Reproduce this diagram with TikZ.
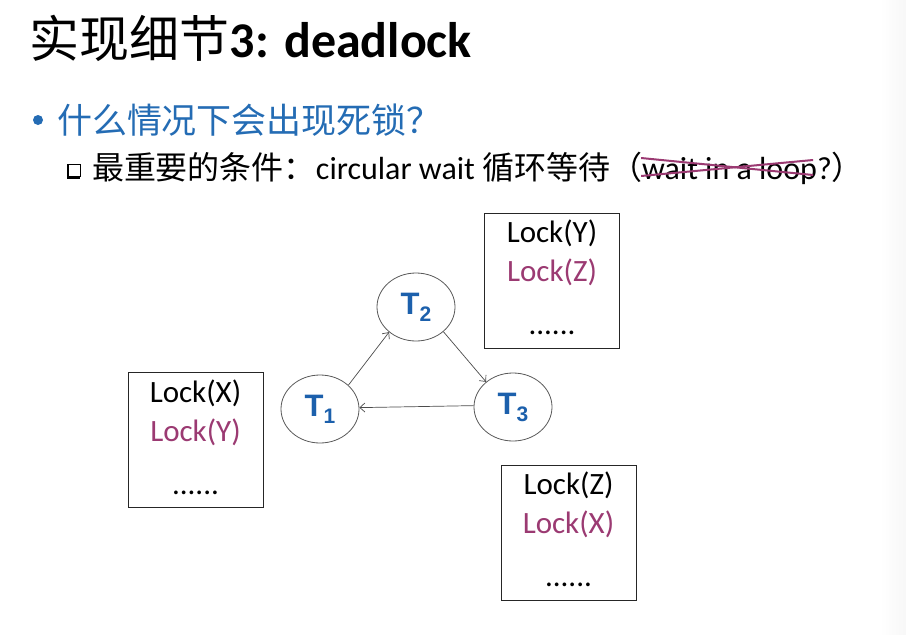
\documentclass[tikz,border=0pt]{standalone}
\usepackage{fontspec}
\setmainfont{Carlito}
\newfontfamily\cjk{Noto Sans CJK SC}
\newfontfamily\arialf{Liberation Sans}
\usetikzlibrary{shapes.geometric,arrows.meta}
\definecolor{lockpurple}{RGB}{155,58,114}
\definecolor{slideblue}{RGB}{36,108,180}
\definecolor{tblue}{RGB}{28,96,172}
\newcommand\tlab[1]{{\arialf\bfseries\fontsize{31}{31}\selectfont T\raisebox{-7pt}{\fontsize{21}{21}\selectfont #1}}}
\begin{document}
\begin{tikzpicture}[x=1pt,y=-1pt,
  txt/.style={inner sep=0pt,outer sep=0pt,anchor=base west},
  boxtxt/.style={inner sep=0pt,outer sep=0pt,anchor=base,font=\fontsize{31}{31}\selectfont},
  lockbox/.style={draw=black!85,line width=0.9pt,minimum width=135pt,minimum height=135pt,inner sep=0pt},
  tnode/.style={ellipse,draw=black!65,line width=0.8pt,minimum width=78pt,minimum height=68pt,inner sep=0pt,text=tblue},
  conn/.style={draw=black!70,line width=0.7pt,-{Straight Barb[length=5pt,width=9pt]}},
  strike/.style={draw=lockpurple,line width=2pt}]
\useasboundingbox (0,0) rectangle (906,635);
\fill[white] (0,0) rectangle (906,635);
\shade[left color=white,right color=black!3] (880,0) rectangle (906,635);
% title
\node[txt,font=\fontsize{50}{50}\selectfont] (title) at (30,57) {{\cjk 实现细节}\textbf{3: deadlock}};
% bullet line
\node[circle,fill=slideblue,minimum size=10pt,inner sep=0pt] (bul) at (38,120) {};
\node[txt,text=slideblue,font=\fontsize{35}{35}\selectfont\cjk] (q) at (57,133) {什么情况下会出现死锁？};
% sub line
\draw[black,line width=2.4pt] (68.2,164) -- (68.2,177.8) -- (80,177.8);
\draw[black,line width=0.8pt] (68,164) rectangle (80,176.5);
\node[txt,font=\fontsize{32}{32}\selectfont] (s1) at (92,179) {{\cjk 最重要的条件：}circular wait {\cjk 循环等待（}};
\node[txt,font=\fontsize{32}{32}\selectfont] (s2) at (s1.base east) {wait in a loop};
\node[txt,font=\fontsize{32}{32}\selectfont] (s3) at (s2.base east) {?{\cjk ）}};
\draw[strike] ([shift={(-1,-21)}]s2.base west) -- ([shift={(-4,-4)}]s2.base east);
\draw[strike] ([shift={(-1,-3)}]s2.base west) -- ([shift={(-4,-19)}]s2.base east);
% lock boxes
\node[lockbox] (bl) at (195.5,440) {};
\node[boxtxt] (bl1) at (195.5,402) {Lock(X)};
\node[boxtxt,text=lockpurple] (bl2) at (195.5,441) {Lock(Y)};
\node[boxtxt] (bl3) at (195.5,494) {......};
\node[lockbox] (bt) at (552,280.5) {};
\node[boxtxt] (bt1) at (552,242) {Lock(Y)};
\node[boxtxt,text=lockpurple] (bt2) at (552,281) {Lock(Z)};
\node[boxtxt] (bt3) at (552,334) {......};
\node[lockbox] (bb) at (568.5,532.5) {};
\node[boxtxt] (bb1) at (568.5,494) {Lock(Z)};
\node[boxtxt,text=lockpurple] (bb2) at (568.5,533) {Lock(X)};
\node[boxtxt] (bb3) at (568.5,586) {......};
% threads
\node[tnode] (t1) at (320,409) {\tlab{1}};
\node[tnode] (t2) at (416,307) {\tlab{2}};
\node[tnode] (t3) at (513,407) {\tlab{3}};
\draw[conn] (t1.40) -- (t2.-137);
\draw[conn] (t2.-42) -- (t3.137);
\draw[conn] (t3.178) -- (t1.2);
\end{tikzpicture}
\end{document}
